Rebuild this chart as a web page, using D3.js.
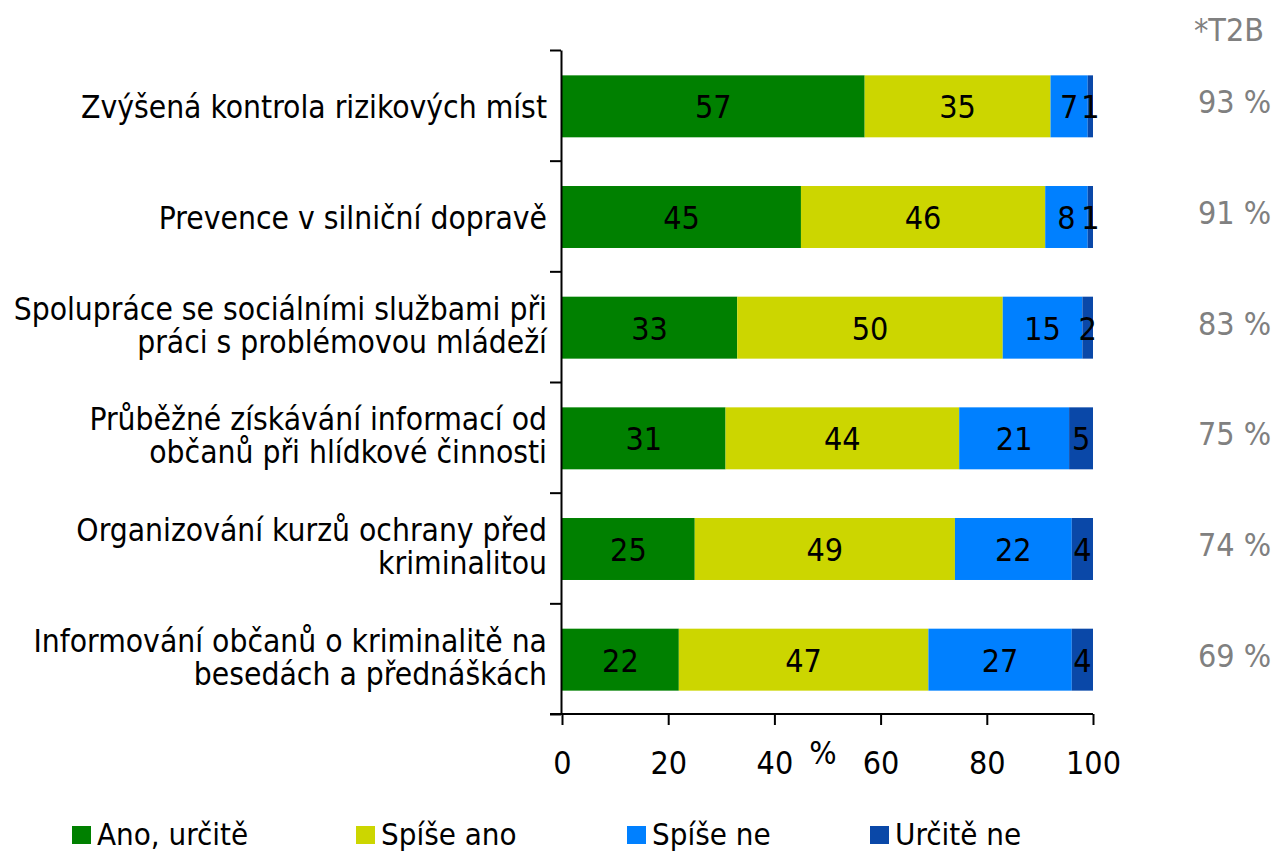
<!DOCTYPE html>
<html><head><meta charset="utf-8">
<script src="https://cdn.jsdelivr.net/npm/d3@7"></script>
<style>body{margin:0;background:#fff}svg{display:block}text{font-family:"DejaVu Sans Condensed","DejaVu Sans",sans-serif;font-stretch:condensed}</style>
</head><body>
<script>
const categories = [
  ["Zvýšená kontrola rizikových míst"],
  ["Prevence v silniční dopravě"],
  ["Spolupráce se sociálními službami při", "práci s problémovou mládeží"],
  ["Průběžné získávání informací od", "občanů při hlídkové činnosti"],
  ["Organizování kurzů ochrany před", "kriminalitou"],
  ["Informování občanů o kriminalitě na", "besedách a přednáškách"]
];
const seriesNames = ["Ano, určitě", "Spíše ano", "Spíše ne", "Určitě ne"];
const anoUrcite = [57, 45, 33, 30.8, 25, 22];
const spiseAno  = [35, 46, 50, 44.0, 49, 47];
const spiseNe   = [7, 8, 15, 20.7, 22, 27];
const urciteNe  = [1, 1, 2, 4.5, 4, 4];
const t2b = ["93 %", "91 %", "83 %", "75 %", "74 %", "69 %"];
const xTicks = [0, 20, 40, 60, 80, 100];
const colors = ["#008000", "#ccd600", "#0080ff", "#0a48a8"];

const FONT = '"DejaVu Sans Condensed","DejaVu Sans",sans-serif';
const W = 1278, H = 853;
const svg = d3.select("body").append("svg").attr("width", W).attr("height", H);
const x = d3.scaleLinear().domain([0, 100]).range([562, 1093]);
const y = d3.scaleBand().domain(d3.range(categories.length)).range([50, 714]).paddingInner(0.44).paddingOuter(0.22);

const series = [anoUrcite, spiseAno, spiseNe, urciteNe];
const rows = categories.map((c, i) => {
  const o = {i};
  seriesNames.forEach((s, k) => o[s] = series[k][i]);
  return o;
});
const stack = d3.stack().keys(seriesNames)(rows);

const g = svg.append("g");
stack.forEach((layer, k) => {
  g.selectAll(null).data(layer).enter().append("rect")
    .attr("x", d => x(d[0])).attr("width", d => x(d[1]) - x(d[0]))
    .attr("y", d => y(d.data.i) + 1).attr("height", y.bandwidth())
    .attr("fill", colors[k]);
});
stack.forEach((layer, k) => {
  g.selectAll(null).data(layer).enter().append("text")
    .attr("x", d => (x(d[0]) + x(d[1])) / 2)
    .attr("y", d => y(d.data.i) + 1 + y.bandwidth() / 2)
    .attr("dy", "0.37em").attr("text-anchor", "middle")
    .attr("font-size", 32).attr("fill", "#000")
    .text(d => Math.round(d[1] - d[0]));
});

// left axis with boundary ticks
const yEdges = d3.scaleLinear().domain([0, categories.length]).range([50, 714]);
const leftAxis = d3.axisLeft(yEdges).tickValues(d3.range(categories.length + 1)).tickFormat("").tickSize(11).tickSizeOuter(0);
svg.append("g").attr("transform", "translate(561,0)").call(leftAxis)
  .call(s => s.selectAll("path,line").attr("stroke", "#000").attr("stroke-width", 2));

const bottomAxis = d3.axisBottom(x).tickValues(xTicks).tickSize(11).tickSizeOuter(0).tickPadding(0);
svg.append("g").attr("transform", "translate(0,714)").call(bottomAxis)
  .call(s => s.selectAll("path,line").attr("stroke", "#000").attr("stroke-width", 2))
  .call(s => s.select("path.domain").attr("d", "M550,0H1093"))
  .call(s => s.selectAll("text").attr("y", 60).attr("dy", 0).attr("font-size", 32).attr("fill", "#000").style("font-family", FONT));

svg.append("text").attr("x", 823).attr("y", 764).attr("text-anchor", "middle").attr("font-size", 32).text("%");

// category labels
categories.forEach((lines, i) => {
  const cy = y(i) + 1 + y.bandwidth() / 2;
  const t = svg.append("text").attr("text-anchor", "end").attr("font-size", 31.5).attr("fill", "#000");
  const off = lines.length === 1 ? 12 : 8.5;
  lines.forEach((l, j) => {
    t.append("tspan").attr("x", 547).attr("y", cy + off + (j - (lines.length - 1) / 2) * 33).text(l);
  });
});

// T2B
svg.append("text").attr("x", 1264).attr("y", 41).attr("text-anchor", "end").attr("font-size", 32).attr("fill", "#808080").text("*T2B");
t2b.forEach((v, i) => {
  svg.append("text").attr("x", 1271).attr("y", y(i) + y.bandwidth() / 2 + 8).attr("text-anchor", "end").attr("font-size", 32).attr("fill", "#808080").text(v);
});

// legend
const legX = [72, 356, 627, 870];
seriesNames.forEach((s, k) => {
  svg.append("rect").attr("x", legX[k]).attr("y", 826).attr("width", 19).attr("height", 18).attr("fill", colors[k]);
  svg.append("text").attr("x", legX[k] + 25).attr("y", 845).attr("font-size", 31).text(s);
});
</script>
</body></html>
